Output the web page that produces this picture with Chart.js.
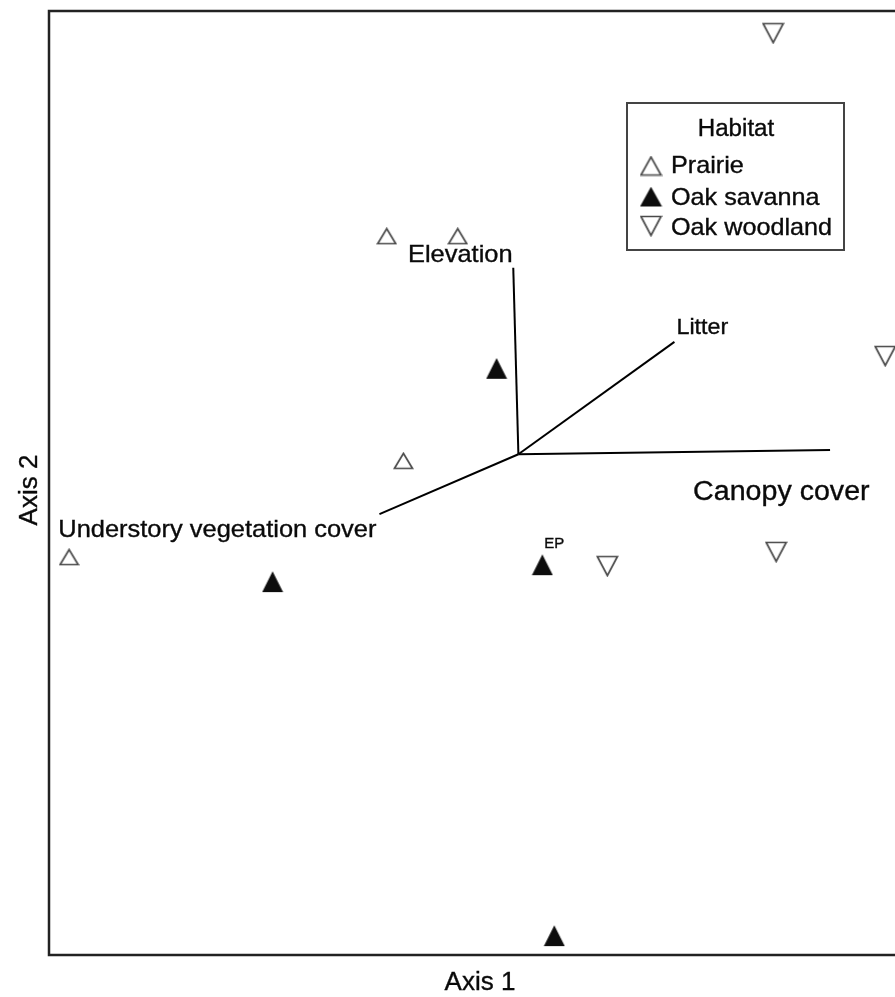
<!DOCTYPE html>
<html>
<head>
<meta charset="utf-8">
<style>
  html, body { margin: 0; padding: 0; background: #fff; overflow: hidden; }
  #wrap { width: 895px; height: 997px; overflow: hidden; }
  canvas { display: block; }
</style>
<script src="https://cdn.jsdelivr.net/npm/chart.js@4/dist/chart.umd.min.js"></script>
</head>
<body>
<div id="wrap"><canvas id="ord" width="915" height="997"></canvas></div>
<script>
// Site scores on the two ordination axes, by habitat
const prairieX  = [-0.210, -0.044, -0.171, -0.953];
const prairieY  = [ 0.523,  0.523,  0.047, -0.157];
const savannaX  = [ 0.047, -0.477,  0.154,  0.182];
const savannaY  = [ 0.242, -0.210, -0.174, -0.960];
const woodlandX = [ 0.694,  0.956,  0.306,  0.701];
const woodlandY = [ 0.953,  0.269, -0.176, -0.146];
const savannaSiteNames = ["", "", "EP", ""];

// Environmental vectors (joint plot), drawn from a common origin
const vectorOrigin = [0.098, 0.061];
const vectorNames = ["Elevation", "Litter", "Canopy cover", "Understory vegetation cover"];
const vectorX = [0.086, 0.463, 0.827, -0.227];
const vectorY = [0.456, 0.299, 0.070, -0.066];

const habitatNames = ["Prairie", "Oak savanna", "Oak woodland"];
const axisTitles = ["Axis 1", "Axis 2"];
const legendTitle = "Habitat";

const FONT = '"Liberation Sans", Arial, sans-serif';
const INK = '#0a0a0a';

function triangleImage(w, h, down, filled) {
  const c = document.createElement('canvas');
  c.width = w; c.height = h;
  const g = c.getContext('2d');
  const p = 1.5;
  g.beginPath();
  if (down) {
    g.moveTo(p, p); g.lineTo(w - p, p); g.lineTo(w / 2, h - p);
  } else {
    g.moveTo(p, h - p); g.lineTo(w / 2, p); g.lineTo(w - p, h - p);
  }
  g.closePath();
  if (filled) { g.fillStyle = '#0d0d0d'; g.fill(); g.strokeStyle = '#0d0d0d'; g.lineWidth = 1.2; g.stroke(); }
  else { g.strokeStyle = '#4a4a4a'; g.lineWidth = 1.7; g.stroke(); }
  return c;
}
const upOpen = triangleImage(21, 18, false, false);
const upFilled = triangleImage(22, 22, false, true);
const downOpen = triangleImage(23, 22, true, false);
const legendMarks = [triangleImage(23, 21, false, false), triangleImage(23, 21, false, true), triangleImage(23, 22, true, false)];

const pts = (xs, ys) => xs.map((x, i) => ({ x, y: ys[i] }));

const datasets = [];
vectorNames.forEach((name, i) => {
  datasets.push({
    type: 'line', label: name,
    data: [{ x: vectorOrigin[0], y: vectorOrigin[1] }, { x: vectorX[i], y: vectorY[i] }],
    borderColor: '#000', borderWidth: 2, pointRadius: 0, fill: false, order: 2
  });
});
const habitatData = [pts(prairieX, prairieY), pts(savannaX, savannaY), pts(woodlandX, woodlandY)];
const habitatStyles = [upOpen, upFilled, downOpen];
habitatNames.forEach((name, i) => {
  datasets.push({
    type: 'scatter', label: name, data: habitatData[i],
    pointStyle: habitatStyles[i], pointRadius: 10, order: 1
  });
});

function stretchedText(ctx, text, x, y, size, align, sx) {
  ctx.save();
  ctx.font = size + 'px ' + FONT;
  ctx.fillStyle = INK;
  ctx.strokeStyle = INK;
  ctx.lineWidth = 0.35;
  ctx.textAlign = align;
  ctx.textBaseline = 'alphabetic';
  ctx.translate(x, y);
  ctx.scale(sx, 1);
  ctx.fillText(text, 0, 0);
  ctx.strokeText(text, 0, 0);
  ctx.restore();
}

// vector label placement: pixel offsets from each vector tip
const vectorLabelOffsets = [[-53, -6, 'center', 24], [2, -8, 'left', 22], [-137, 50, 'left', 27], [-3, 23, 'right', 24]];

const ordinationPlugin = {
  id: 'ordination',
  afterDatasetsDraw(chart) {
    const { ctx, chartArea: a, scales: { x, y } } = chart;
    // frame
    ctx.save();
    ctx.strokeStyle = '#222';
    ctx.lineWidth = 2.5;
    ctx.strokeRect(a.left, a.top, a.right - a.left, a.bottom - a.top);
    ctx.restore();

    // vector labels
    vectorNames.forEach((name, i) => {
      const px = x.getPixelForValue(vectorX[i]);
      const py = y.getPixelForValue(vectorY[i]);
      const o = vectorLabelOffsets[i];
      stretchedText(ctx, name, px + o[0], py + o[1], o[3], o[2], 1.06);
    });

    // site names
    savannaSiteNames.forEach((n, i) => {
      if (!n) return;
      const px = x.getPixelForValue(savannaX[i]);
      const py = y.getPixelForValue(savannaY[i]);
      stretchedText(ctx, n, px + 12, py - 17, 15, 'center', 1.0);
    });

    // axis titles
    stretchedText(ctx, axisTitles[0], (a.left + 895) / 2 + 8, a.bottom + 35, 25, 'center', 1.04);
    ctx.save();
    ctx.translate(a.left - 12, (a.top + a.bottom) / 2 + 7);
    ctx.rotate(-Math.PI / 2);
    stretchedText(ctx, axisTitles[1], 0, 0, 25, 'center', 1.04);
    ctx.restore();

    // habitat legend box
    const bx = 627, by = 103, bw = 217, bh = 147;
    ctx.save();
    ctx.fillStyle = '#fff';
    ctx.fillRect(bx, by, bw, bh);
    ctx.strokeStyle = '#444';
    ctx.lineWidth = 2;
    ctx.strokeRect(bx, by, bw, bh);
    ctx.restore();
    stretchedText(ctx, legendTitle, bx + 109, by + 33, 23, 'center', 1.05);
    const rowBase = [173, 205, 235];
    const rowMid = [166, 197, 226];
    habitatNames.forEach((name, i) => {
      const img = legendMarks[i];
      ctx.drawImage(img, 651 - img.width / 2, rowMid[i] - img.height / 2);
      stretchedText(ctx, name, 671, rowBase[i], 24, 'left', 1.05);
    });
  }
};

new Chart(document.getElementById('ord'), {
  type: 'scatter',
  data: { datasets },
  options: {
    responsive: false,
    animation: false,
    devicePixelRatio: 1,
    layout: { padding: { left: 49, right: 10, top: 11, bottom: 42 } },
    plugins: { legend: { display: false }, tooltip: { enabled: false } },
    scales: {
      x: { type: 'linear', min: -1, max: 1, display: false },
      y: { type: 'linear', min: -1, max: 1, display: false }
    }
  },
  plugins: [ordinationPlugin]
});
</script>
</body>
</html>
